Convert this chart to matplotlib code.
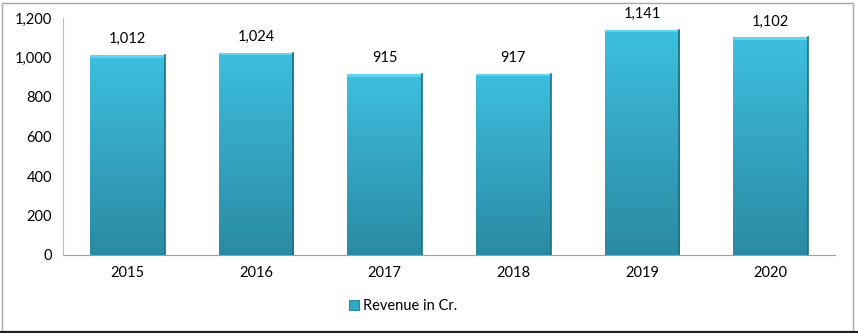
import numpy as np
import matplotlib.pyplot as plt
from matplotlib.patches import Rectangle
from matplotlib.colors import LinearSegmentedColormap

years = ['2015', '2016', '2017', '2018', '2019', '2020']
revenue = [1012, 1024, 915, 917, 1141, 1102]

plt.rcParams['font.family'] = ['Lato', 'DejaVu Sans']
plt.rcParams['font.size'] = 10.5

fig = plt.figure(figsize=(8.58, 3.33), dpi=100)
ax = fig.add_axes([63/858, 1 - 255/333, 772/858, 237/333])

x = np.arange(len(years))
bars = ax.bar(x, revenue, width=0.58, color='#38b4d4', zorder=2)

# vertical gradient inside each bar
grad = np.linspace(0, 1, 256).reshape(-1, 1)
cmap = LinearSegmentedColormap.from_list('g', ['#2a8aa2', '#3dbfe0'])
for b in bars:
    bx, by = b.get_x(), b.get_y()
    w, h = b.get_width(), b.get_height()
    im = ax.imshow(grad, extent=[bx, bx + w, by, by + h], origin='lower',
                   cmap=cmap, aspect='auto', zorder=3)
    im.set_clip_path(b)
    # bevel highlight on top edge
    ax.add_patch(Rectangle((bx, by + h - 12), w, 12, color='#5fd3ef', lw=0, zorder=4))
    ax.plot([bx + w, bx + w], [by, by + h], color='#1f6e82', lw=1.2, zorder=4)

for xi, v in zip(x, revenue):
    ax.text(xi, v + 45, f'{v:,}', ha='center', va='bottom', fontsize=10.5)

ax.set_xlim(-0.5, 5.5)
ax.set_ylim(0, 1200)
ax.set_yticks(range(0, 1201, 200))
ax.set_yticklabels([f'{t:,}' for t in range(0, 1201, 200)])
ax.set_xticks(x)
ax.set_xticklabels(years)
ax.tick_params(length=0, pad=8)
for s in ['top', 'right']:
    ax.spines[s].set_visible(False)
ax.spines['left'].set_color('#bfbfbf')
ax.spines['bottom'].set_color('#9f9f9f')

handle = Rectangle((0, 0), 1, 1, facecolor='#34a8c6', edgecolor='#2a8aa2', lw=0.8)
fig.legend([handle], ['Revenue in Cr.'], loc='center', bbox_to_anchor=(0.47, 1 - 306/333),
           frameon=False, handlelength=0.7, handleheight=0.7, handletextpad=0.3)

fig.add_artist(Rectangle((2/858, 2/333), 851/858, 328/333, transform=fig.transFigure,
                         fill=False, edgecolor='#a6a6a6', lw=1))
fig.add_artist(plt.Line2D([0, 1], [1.5/333, 1.5/333], transform=fig.transFigure,
                          color='#202020', lw=1.5))

fig.savefig('out.png', dpi=100)
